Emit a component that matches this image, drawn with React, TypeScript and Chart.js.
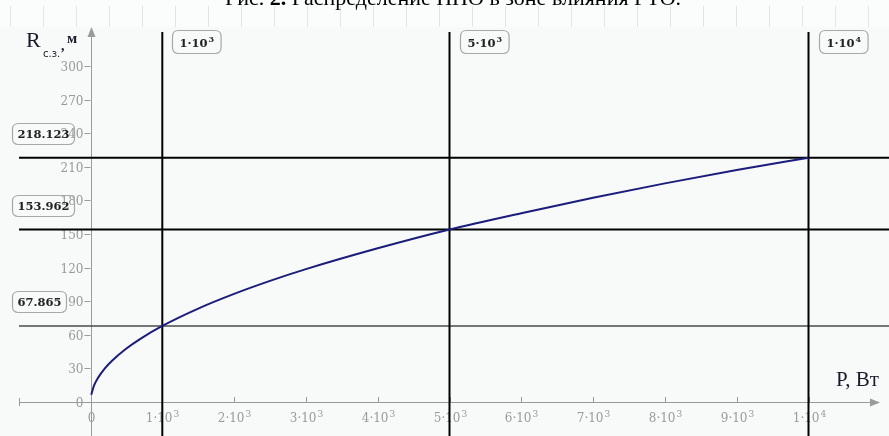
import React, { useEffect, useRef } from "react";
import { Chart, registerables } from "chart.js";

Chart.register(...registerables);

// Curve: P (W) -> R (m)
const powerW = [10, 50, 100, 200, 300, 500, 700, 1000, 1500, 2000, 2500, 3000, 4000, 5000, 6000, 7000, 8000, 9000, 10000];
const radiusM = [6.5, 14.8, 21.1, 30.0, 36.8, 47.7, 56.6, 67.9, 83.4, 96.5, 108.1, 118.6, 137.2, 154.0, 168.6, 182.4, 195.2, 207.2, 218.1];

// Marker lines ("^" marks the exponent)
const markerPowers = [1000, 5000, 10000];
const markerPowerLabels = ["1·10^3", "5·10^3", "1·10^4"];
const markerRadii = [67.865, 153.962, 218.123];
const markerRadiusLabels = ["67.865", "153.962", "218.123"];

// Axis ticks
const xTickValues = [0, 1000, 2000, 3000, 4000, 5000, 6000, 7000, 8000, 9000, 10000];
const xTickLabels = ["0", "1·10^3", "2·10^3", "3·10^3", "4·10^3", "5·10^3", "6·10^3", "7·10^3", "8·10^3", "9·10^3", "1·10^4"];
const yTickValues = [0, 30, 60, 90, 120, 150, 180, 210, 240, 270, 300];
const yTickLabels = ["0", "30", "60", "90", "120", "150", "180", "210", "240", "270", "300"];

const titleParts = [
  { text: "Рис. ", bold: false },
  { text: "2.", bold: true },
  { text: " Распределение ННО в зоне влияния РТО.", bold: false },
];

const SERIF = "'Liberation Serif', 'Times New Roman', serif";
const MSERIF = "'DejaVu Serif', serif";

function roundRect(ctx: CanvasRenderingContext2D, x: number, y: number, w: number, h: number, r: number) {
  ctx.beginPath();
  ctx.moveTo(x + r, y);
  ctx.lineTo(x + w - r, y);
  ctx.quadraticCurveTo(x + w, y, x + w, y + r);
  ctx.lineTo(x + w, y + h - r);
  ctx.quadraticCurveTo(x + w, y + h, x + w - r, y + h);
  ctx.lineTo(x + r, y + h);
  ctx.quadraticCurveTo(x, y + h, x, y + h - r);
  ctx.lineTo(x, y + r);
  ctx.quadraticCurveTo(x, y, x + r, y);
  ctx.closePath();
}

// draws "a·10^e" with a raised exponent; returns width; align: 'left' | 'center'
function powLabel(ctx: CanvasRenderingContext2D, label: string, x: number, y: number, size: number, weight: string, align: string, measureOnly = false) {
  const [base, exp] = label.split("^");
  ctx.font = `${weight} ${size}px ${MSERIF}`;
  const bw = ctx.measureText(base).width;
  const supSize = Math.round(size * 0.72);
  ctx.font = `${weight} ${supSize}px ${MSERIF}`;
  const ew = exp ? ctx.measureText(exp).width + 1 : 0;
  const total = bw + ew;
  if (measureOnly) return total;
  const sx = align === "center" ? x - total / 2 : x;
  ctx.textAlign = "left";
  ctx.textBaseline = "alphabetic";
  ctx.font = `${weight} ${size}px ${MSERIF}`;
  ctx.fillText(base, sx, y);
  if (exp) {
    ctx.font = `${weight} ${supSize}px ${MSERIF}`;
    ctx.fillText(exp, sx + bw + 1, y - size * 0.42);
  }
  return total;
}

const mathcadPlugin = {
  id: "mathcad",
  beforeDraw(chart: any) {
    const ctx = chart.ctx as CanvasRenderingContext2D;
    const W = chart.width;
    const H = chart.height;
    ctx.save();
    ctx.fillStyle = "#f7faf9";
    ctx.fillRect(0, 0, W, H);
    ctx.fillStyle = "#fbfdfd";
    ctx.fillRect(0, 0, W, 27);
    ctx.strokeStyle = "#dfe6ea";
    ctx.lineWidth = 1;
    for (let x = 10; x < W; x += 33) {
      ctx.beginPath();
      ctx.moveTo(x + 0.5, 6);
      ctx.lineTo(x + 0.5, 27);
      ctx.stroke();
    }
    ctx.restore();
  },
  beforeDatasetsDraw(chart: any) {
    const ctx = chart.ctx as CanvasRenderingContext2D;
    const xs = chart.scales.x;
    const ys = chart.scales.y;
    const W = chart.width;
    const H = chart.height;
    const x0 = xs.getPixelForValue(0);
    const y0 = ys.getPixelForValue(0);
    ctx.save();
    const axisColor = "#9a9a9a";
    ctx.strokeStyle = axisColor;
    ctx.fillStyle = axisColor;
    ctx.lineWidth = 1;
    ctx.beginPath();
    ctx.moveTo(19, Math.round(y0) + 0.5);
    ctx.lineTo(873, Math.round(y0) + 0.5);
    ctx.stroke();
    ctx.beginPath();
    ctx.moveTo(880, Math.round(y0) + 0.5);
    ctx.lineTo(870, Math.round(y0) - 3.5);
    ctx.lineTo(870, Math.round(y0) + 4.5);
    ctx.closePath();
    ctx.fill();
    ctx.beginPath();
    ctx.moveTo(Math.round(x0) + 0.5, H);
    ctx.lineTo(Math.round(x0) + 0.5, 34);
    ctx.stroke();
    ctx.beginPath();
    ctx.moveTo(Math.round(x0) + 0.5, 27);
    ctx.lineTo(Math.round(x0) - 3.5, 37);
    ctx.lineTo(Math.round(x0) + 4.5, 37);
    ctx.closePath();
    ctx.fill();
    ctx.beginPath();
    ctx.moveTo(19.5, y0 - 4);
    ctx.lineTo(19.5, y0 + 4);
    ctx.stroke();

    // y ticks
    ctx.fillStyle = "#9a9a9a";
    ctx.font = `12px ${MSERIF}`;
    ctx.textAlign = "right";
    ctx.textBaseline = "middle";
    yTickValues.forEach((v, i) => {
      const py = Math.round(ys.getPixelForValue(v)) + 0.5;
      ctx.beginPath();
      ctx.moveTo(x0 - 6, py);
      ctx.lineTo(x0, py);
      ctx.stroke();
      ctx.font = `12px ${MSERIF}`;
      ctx.textAlign = "right";
      ctx.textBaseline = "middle";
      ctx.fillText(yTickLabels[i], x0 - 7, py + 1);
    });
    // x ticks
    xTickValues.forEach((v, i) => {
      const px = Math.round(xs.getPixelForValue(v)) + 0.5;
      if (v !== 0) {
        ctx.beginPath();
        ctx.moveTo(px, y0 - 5);
        ctx.lineTo(px, y0);
        ctx.stroke();
      }
      powLabel(ctx, xTickLabels[i], px, y0 + 20, 12, "normal", "center");
    });

    // marker lines
    markerRadii.forEach((r, i) => {
      const py = ys.getPixelForValue(r);
      ctx.strokeStyle = i === 0 ? "#4a4a4a" : "#000000";
      ctx.lineWidth = i === 0 ? 1.6 : 2;
      ctx.beginPath();
      ctx.moveTo(19, py);
      ctx.lineTo(W, py);
      ctx.stroke();
    });
    markerPowers.forEach((p) => {
      const px = xs.getPixelForValue(p);
      ctx.strokeStyle = "#000000";
      ctx.lineWidth = 2;
      ctx.beginPath();
      ctx.moveTo(px, 32);
      ctx.lineTo(px, H);
      ctx.stroke();
    });
    ctx.restore();
  },
  afterDatasetsDraw(chart: any) {
    const ctx = chart.ctx as CanvasRenderingContext2D;
    const xs = chart.scales.x;
    const ys = chart.scales.y;
    ctx.save();
    // horizontal marker labels
    markerRadii.forEach((r, i) => {
      const py = ys.getPixelForValue(r);
      const txt = markerRadiusLabels[i];
      ctx.font = `bold 11.5px ${MSERIF}`;
      const tw = ctx.measureText(txt).width;
      const bw = tw + 10;
      const bh = 21;
      const bx = 12.5;
      const by = Math.round(py - 24 - bh / 2) + 0.5;
      ctx.strokeStyle = "#a8a8a8";
      ctx.lineWidth = 1.2;
      roundRect(ctx, bx, by, bw, bh, 6);
      ctx.stroke();
      ctx.fillStyle = "#222222";
      ctx.textAlign = "left";
      ctx.textBaseline = "middle";
      ctx.fillText(txt, bx + 5, by + bh / 2 + 1);
    });
    // vertical marker labels
    markerPowers.forEach((p, i) => {
      const px = xs.getPixelForValue(p);
      const txt = markerPowerLabels[i];
      const tw = powLabel(ctx, txt, 0, 0, 11.5, "bold", "left", true);
      const bw = tw + 14;
      const bh = 23;
      const bx = Math.round(px + 10) + 0.5;
      const by = 30.5;
      ctx.strokeStyle = "#a8a8a8";
      ctx.lineWidth = 1.2;
      roundRect(ctx, bx, by, bw, bh, 6);
      ctx.stroke();
      ctx.fillStyle = "#222222";
      powLabel(ctx, txt, bx + 7, by + 16, 11.5, "bold", "left");
    });

    // axis titles
    ctx.fillStyle = "#1a1a2a";
    ctx.textAlign = "left";
    ctx.textBaseline = "alphabetic";
    ctx.font = `22px ${SERIF}`;
    ctx.fillText("R", 26, 47);
    ctx.font = `10px 'DejaVu Sans', sans-serif`;
    ctx.fillText("с.з.", 43, 57);
    ctx.font = `bold 14px ${SERIF}`;
    ctx.fillText(",", 61, 50);
    ctx.font = `bold 15px ${SERIF}`;
    ctx.fillText("м", 67, 43);
    ctx.font = `21px ${SERIF}`;
    ctx.fillText("P, Вт", 836, 386);

    // title (cut at the top)
    let total = 0;
    titleParts.forEach((t) => {
      ctx.font = `${t.bold ? "bold " : ""}22px ${SERIF}`;
      total += ctx.measureText(t.text).width;
    });
    let tx = 453 - total / 2;
    ctx.fillStyle = "#000000";
    titleParts.forEach((t) => {
      ctx.font = `${t.bold ? "bold " : ""}22px ${SERIF}`;
      ctx.fillText(t.text, tx, 5);
      tx += ctx.measureText(t.text).width;
    });
    ctx.restore();
  },
};

export default function App() {
  const ref = useRef<HTMLCanvasElement | null>(null);
  useEffect(() => {
    if (!ref.current) return;
    const pxPerX = 0.0718;
    const x0px = 90.5;
    const pxPerY = 1.12;
    const y0px = 402;
    const chart = new Chart(ref.current, {
      type: "scatter",
      data: {
        datasets: [
          {
            data: powerW.map((p, i) => ({ x: p, y: radiusM[i] })),
            showLine: true,
            borderColor: "#1c1c7a",
            borderWidth: 2,
            pointRadius: 0,
            cubicInterpolationMode: "monotone",
          },
        ],
      },
      options: {
        responsive: false,
        animation: false,
        layout: { padding: 0 },
        plugins: { legend: { display: false }, tooltip: { enabled: false } },
        scales: {
          x: { type: "linear", display: false, min: -x0px / pxPerX, max: (889 - x0px) / pxPerX },
          y: { type: "linear", display: false, min: -(436 - y0px) / pxPerY, max: y0px / pxPerY },
        },
      },
      plugins: [mathcadPlugin],
    } as any);
    return () => chart.destroy();
  }, []);
  return (
    <div style={{ position: "absolute", left: 0, top: 0, width: 889, height: 436 }}>
      <canvas ref={ref} width={889} height={436} style={{ width: 889, height: 436, display: "block" }} />
    </div>
  );
}
